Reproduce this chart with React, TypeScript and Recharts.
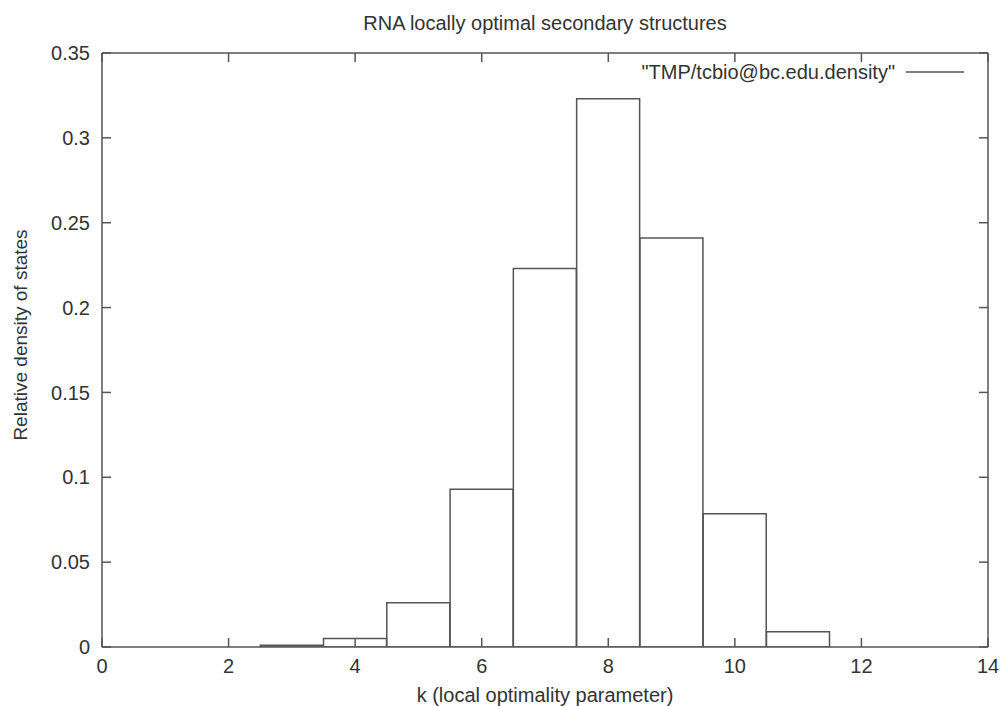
import { Bar, ComposedChart, Legend, XAxis, YAxis } from "recharts";

// histogram bins (centre of each unit-wide bin) and their heights
const kValues = [1, 2, 3, 4, 5, 6, 7, 8, 9, 10, 11, 12, 13];
const density = [0, 0, 0.001, 0.005, 0.026, 0.093, 0.223, 0.323, 0.241, 0.0785, 0.009, 0, 0];

const xTicks = [0, 2, 4, 6, 8, 10, 12, 14];
const yTicks = [0, 0.05, 0.1, 0.15, 0.2, 0.25, 0.3, 0.35];

const seriesName = '"TMP/tcbio@bc.edu.density"';
const title = "RNA locally optimal secondary structures";

const data = kValues.map((k, i) => ({ k, value: density[i] }));

const FONT = '"Liberation Sans", Arial, sans-serif';
const FS = 20;
const INK = "#333";
const FRAME = "#555";

const noLabel = () => <g />;

const KeyBox = () => (
  <div
    style={{
      display: "flex",
      alignItems: "center",
      height: 22,
      lineHeight: "22px",
      fontFamily: FONT,
      fontSize: FS,
      color: INK,
      whiteSpace: "nowrap",
    }}
  >
    <span>{seriesName}</span>
    <svg width={58} height={4} style={{ marginLeft: 11 }}>
      <line x1={0} y1={2} x2={58} y2={2} stroke={FRAME} strokeWidth={1.5} />
    </svg>
  </div>
);

const YTitle = (props: any) => {
  const vb = props.viewBox || { x: 0 };
  const x = vb.x + 27;
  const y = 335;
  return (
    <text
      x={x}
      y={y}
      transform={`rotate(-90, ${x}, ${y})`}
      textAnchor="middle"
      fill={INK}
      fontSize={19}
      fontFamily={FONT}
    >
      Relative density of states
    </text>
  );
};

export default function App() {
  return (
    <div style={{ position: "absolute", left: 0, top: 0, fontFamily: FONT }}>
      <ComposedChart
        width={1000}
        height={706}
        data={data}
        margin={{ top: 52, right: 11, left: 0, bottom: 0 }}
        barCategoryGap={0}
        barGap={0}
      >
        <XAxis
          dataKey="k"
          type="number"
          domain={[0, 14]}
          ticks={xTicks}
          interval={0}
          height={59}
          stroke={FRAME}
          strokeWidth={1.5}
          tickSize={-9}
          tickMargin={21}
          tick={{ fill: INK, fontSize: FS, fontFamily: FONT }}
          label={{
            value: "k (local optimality parameter)",
            position: "insideBottom",
            offset: 4,
            fill: INK,
            fontSize: FS,
            fontFamily: FONT,
          }}
        />
        <XAxis
          xAxisId="top"
          dataKey="k"
          orientation="top"
          type="number"
          domain={[0, 14]}
          ticks={xTicks}
          interval={0}
          height={1}
          stroke={FRAME}
          strokeWidth={1.5}
          tickSize={-9}
          tick={noLabel}
          allowDataOverflow
          label={{
            value: title,
            position: "top",
            offset: 22,
            fill: INK,
            fontSize: FS,
            fontFamily: FONT,
          }}
        />
        <YAxis
          type="number"
          domain={[0, 0.35]}
          ticks={yTicks}
          interval={0}
          width={102}
          stroke={FRAME}
          strokeWidth={1.5}
          tickSize={-9}
          tickMargin={21}
          tick={{ fill: INK, fontSize: FS, fontFamily: FONT }}
          allowDataOverflow
          label={{ content: YTitle }}
        />
        <YAxis
          yAxisId="right"
          orientation="right"
          type="number"
          domain={[0, 0.35]}
          ticks={yTicks}
          interval={0}
          width={1}
          stroke={FRAME}
          strokeWidth={1.5}
          tickSize={-9}
          tick={noLabel}
          allowDataOverflow
        />
        <Legend
          layout="vertical"
          align="center"
          verticalAlign="middle"
          wrapperStyle={{ top: 61, right: 36, left: "auto", width: "auto" }}
          content={KeyBox}
        />
        <Bar
          dataKey="value"
          name={seriesName}
          fill="none"
          stroke={FRAME}
          strokeWidth={1.5}
          isAnimationActive={false}
        />
      </ComposedChart>
    </div>
  );
}
